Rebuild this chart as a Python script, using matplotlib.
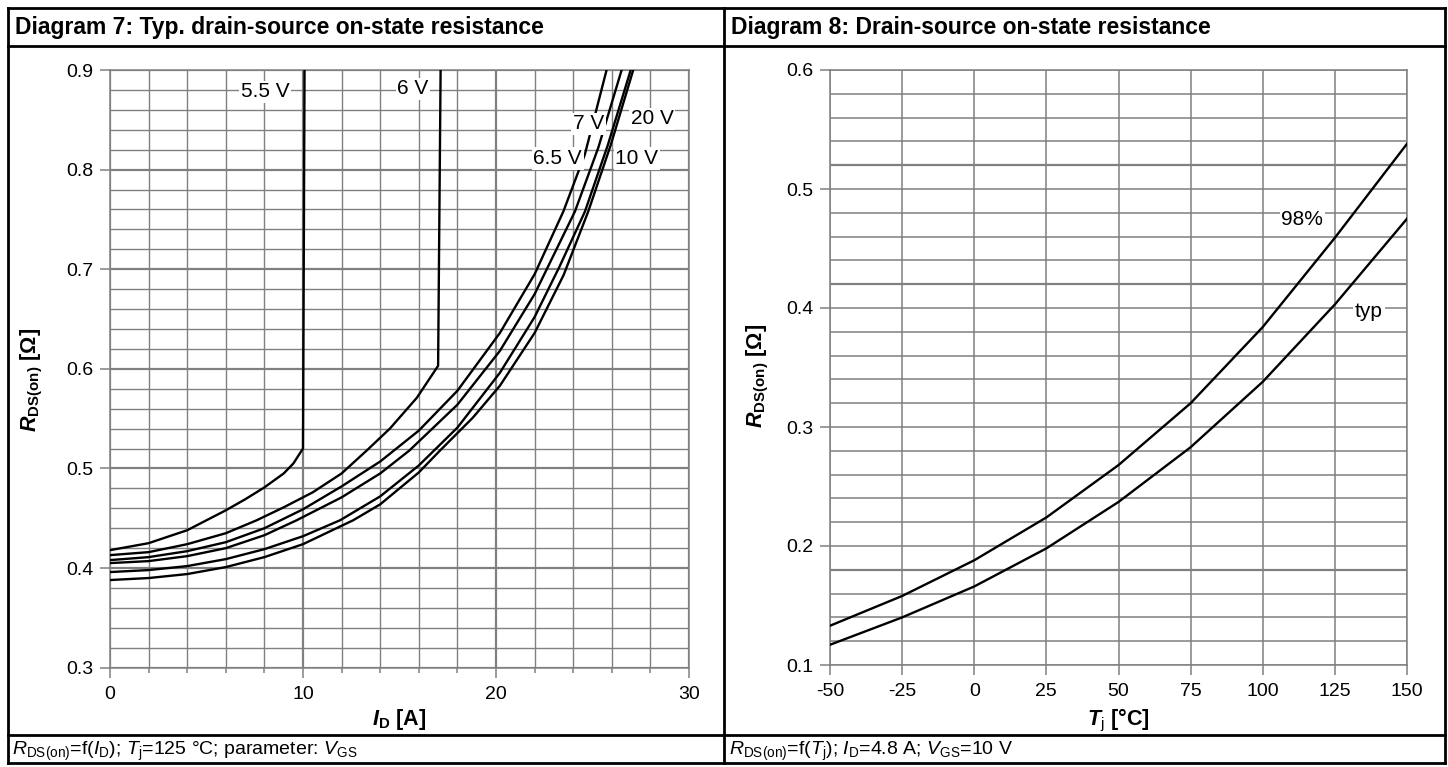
import matplotlib
matplotlib.use("Agg")
import matplotlib.pyplot as plt
from matplotlib.lines import Line2D
from matplotlib.ticker import MultipleLocator
import numpy as np

W, H = 1448, 767

# ---- Diagram 7 data: RDS(on) vs ID, Tj=125 C ----
id_55 = [0, 2, 4, 5, 6, 7, 8, 9, 9.5, 10.0, 10.08]
r_55 = [0.418, 0.425, 0.438, 0.448, 0.458, 0.469, 0.481, 0.495, 0.505, 0.52, 0.9]

id_6 = [0, 2, 4, 6, 7.6, 9, 10.5, 12, 13.3, 14.5, 15.9, 17.0, 17.13]
r_6 = [0.413, 0.416, 0.424, 0.435, 0.448, 0.461, 0.476, 0.495, 0.518, 0.540, 0.571, 0.603, 0.9]

id_65 = [0, 2, 4, 6, 8, 10, 12, 14, 16, 18, 20.2, 22, 23.49, 24.6, 25.73]
r_65 = [0.408, 0.411, 0.417, 0.426, 0.440, 0.459, 0.482, 0.507, 0.538, 0.578, 0.636, 0.695, 0.758, 0.815, 0.9]

id_7 = [0, 2, 4, 6, 8, 9.67, 12, 14, 15.51, 18, 20.2, 22, 24.09, 25.3, 26.51]
r_7 = [0.405, 0.407, 0.412, 0.420, 0.433, 0.448, 0.471, 0.495, 0.518, 0.564, 0.618, 0.675, 0.758, 0.822, 0.9]

id_10 = [0, 2, 4, 6, 8, 10, 11.92, 14, 16, 18, 20.2, 22, 23.3, 24.61, 25.8, 26.98]
r_10 = [0.396, 0.398, 0.402, 0.409, 0.419, 0.432, 0.448, 0.472, 0.503, 0.541, 0.596, 0.652, 0.703, 0.758, 0.825, 0.9]

id_20 = [0, 2, 4, 6, 8, 10, 12.6, 14, 16, 17.1, 18.8, 20.2, 22, 23.5, 24.78, 25.95, 27.11]
r_20 = [0.388, 0.390, 0.394, 0.401, 0.411, 0.424, 0.448, 0.464, 0.496, 0.518, 0.551, 0.583, 0.636, 0.694, 0.758, 0.825, 0.9]

vgs_labels = ["5.5 V", "6 V", "6.5 V", "7 V", "10 V", "20 V"]
vgs_lab_x = [8.03, 15.7, 23.2, 24.8, 27.3, 28.1]
vgs_lab_y = [0.878, 0.881, 0.811, 0.846, 0.811, 0.851]

# ---- Diagram 8 data: RDS(on) vs Tj ----
tj = [-50, -25, 0, 25, 50, 75, 100, 125, 150]
r_98 = [0.133, 0.158, 0.188, 0.224, 0.268, 0.320, 0.384, 0.459, 0.538]
r_typ = [0.117, 0.140, 0.166, 0.198, 0.237, 0.283, 0.338, 0.403, 0.475]
tj_labels = ["98%", "typ"]
tj_lab_x = [113.7, 136.8]
tj_lab_y = [0.474, 0.397]

plt.rcParams['font.family'] = ['Liberation Sans', 'DejaVu Sans']
plt.rcParams['mathtext.fontset'] = 'custom'
plt.rcParams['mathtext.rm'] = 'Liberation Sans'
plt.rcParams['mathtext.it'] = 'Liberation Sans:italic'
plt.rcParams['mathtext.bf'] = 'Liberation Sans:bold'
plt.rcParams['mathtext.sf'] = 'Liberation Sans:bold:italic'

GRID = '#808080'
TICK_FS = 14
LAB_FS = 15
AX_FS = 15.5
HEAD_FS = 16.5
FOOT_FS = 14

fig = plt.figure(figsize=(W / 100, H / 100), dpi=100)


def fx(px):
    return px / W


def fy(py):
    return 1 - py / H


def make_axes(x0, x1, y0, y1):
    ax = fig.add_axes([fx(x0), fy(y1), fx(x1) - fx(x0), fy(y0) - fy(y1)])
    for s in ax.spines.values():
        s.set_color(GRID)
        s.set_linewidth(1.1)
    ax.tick_params(colors='black', labelsize=TICK_FS, direction='out')
    ax.tick_params(which='both', color=GRID, width=1.1)
    ax.tick_params(which='major', length=7)
    ax.tick_params(axis='x', which='major', pad=6)
    ax.tick_params(axis='y', which='major', pad=5)
    return ax


# frame
def hline(y, x0, x1, lw=2.0):
    fig.add_artist(Line2D([fx(x0), fx(x1)], [fy(y), fy(y)], color='black', lw=lw))


def vline(x, y0, y1, lw=2.0):
    fig.add_artist(Line2D([fx(x), fx(x)], [fy(y0), fy(y1)], color='black', lw=lw))


hline(8, 8, 1445)
hline(46, 8, 1445)
hline(735, 8, 1445)
hline(763, 8, 1445)
vline(8, 8, 763)
vline(724, 8, 763)
vline(1445, 8, 763)

fig.text(fx(15), fy(34), "Diagram 7: Typ. drain-source on-state resistance",
         fontsize=HEAD_FS, fontweight='bold', va='baseline', ha='left')
fig.text(fx(731), fy(34), "Diagram 8: Drain-source on-state resistance",
         fontsize=HEAD_FS, fontweight='bold', va='baseline', ha='left')
fig.text(fx(12), fy(755), r'$R_\mathrm{DS(on)}$=f($I_\mathrm{D}$); $T_\mathrm{j}$=125 °C; parameter: $V_\mathrm{GS}$',
         fontsize=FOOT_FS, va='baseline', ha='left')
fig.text(fx(729), fy(755), r'$R_\mathrm{DS(on)}$=f($T_\mathrm{j}$); $I_\mathrm{D}$=4.8 A; $V_\mathrm{GS}$=10 V',
         fontsize=FOOT_FS, va='baseline', ha='left')

# ---- left chart ----
ax1 = make_axes(110, 689, 70, 667.7)
ax1.set_xlim(0, 30)
ax1.set_ylim(0.3, 0.9)
ax1.xaxis.set_major_locator(MultipleLocator(10))
ax1.xaxis.set_minor_locator(MultipleLocator(2))
ax1.yaxis.set_major_locator(MultipleLocator(0.1))
ax1.yaxis.set_minor_locator(MultipleLocator(0.02))
ax1.tick_params(axis='x', which='minor', length=3.5)
ax1.tick_params(axis='y', which='minor', length=0)
ax1.grid(which='minor', color=GRID, lw=1.0)
ax1.grid(which='major', color=GRID, lw=1.6)
ax1.set_axisbelow(True)
ax1.set_xticks([0, 10, 20, 30])
ax1.set_xticklabels(['0', '10', '20', '30'])
ax1.set_yticks(np.arange(3, 10) / 10)
ax1.set_yticklabels(['%.1f' % v for v in np.arange(3, 10) / 10])

for xs, ys in [(id_55, r_55), (id_6, r_6), (id_65, r_65), (id_7, r_7), (id_10, r_10), (id_20, r_20)]:
    ax1.plot(xs, ys, color='black', lw=1.7, solid_joinstyle='round', zorder=3)

for t, x, y in zip(vgs_labels, vgs_lab_x, vgs_lab_y):
    ax1.text(x, y, t, fontsize=LAB_FS, ha='center', va='center', zorder=5,
             bbox=dict(boxstyle='square,pad=0.08', fc='white', ec='none'))

ax1.set_xlabel(r'$\mathsf{I}_{\mathbf{D}}$ [A]', fontsize=AX_FS, fontweight='bold', va='center')
ax1.xaxis.set_label_coords(0.5, -0.0875)
ax1.set_ylabel(r'$\mathsf{R}_{\mathbf{DS(on)}}$ [Ω]', fontsize=AX_FS, fontweight='bold', va='center')
ax1.yaxis.set_label_coords(-0.135, 0.482)

# ---- right chart ----
ax2 = make_axes(830, 1407, 70, 665)
ax2.set_xlim(-50, 150)
ax2.set_ylim(0.1, 0.6)
ax2.xaxis.set_major_locator(MultipleLocator(25))
ax2.yaxis.set_major_locator(MultipleLocator(0.1))
ax2.yaxis.set_minor_locator(MultipleLocator(0.02))
ax2.tick_params(axis='y', which='minor', length=0)
ax2.grid(which='both', color=GRID, lw=1.1)
ax2.set_axisbelow(True)
ax2.set_yticks(np.arange(1, 7) / 10)
ax2.set_yticklabels(['%.1f' % v for v in np.arange(1, 7) / 10])
ax2.set_xticks(tj)
ax2.set_xticklabels([str(v) for v in tj])
for v in [0.18, 0.42, 0.52]:
    ax2.axhline(v, color=GRID, lw=1.6, zorder=0.6)

ax2.plot(tj, r_98, color='black', lw=1.7, zorder=3)
ax2.plot(tj, r_typ, color='black', lw=1.7, zorder=3)
for t, x, y in zip(tj_labels, tj_lab_x, tj_lab_y):
    ax2.text(x, y, t, fontsize=LAB_FS, ha='center', va='center', zorder=5,
             bbox=dict(boxstyle='square,pad=0.08', fc='white', ec='none'))

ax2.set_xlabel(r'$\mathsf{T}_{\mathrm{j}}$ [°C]', fontsize=AX_FS, fontweight='bold', va='center')
ax2.xaxis.set_label_coords(0.5, -0.0924)
ax2.set_ylabel(r'$\mathsf{R}_{\mathbf{DS(on)}}$ [Ω]', fontsize=AX_FS, fontweight='bold', va='center')
ax2.yaxis.set_label_coords(-0.125, 0.485)

fig.savefig("out.png", dpi=100)
